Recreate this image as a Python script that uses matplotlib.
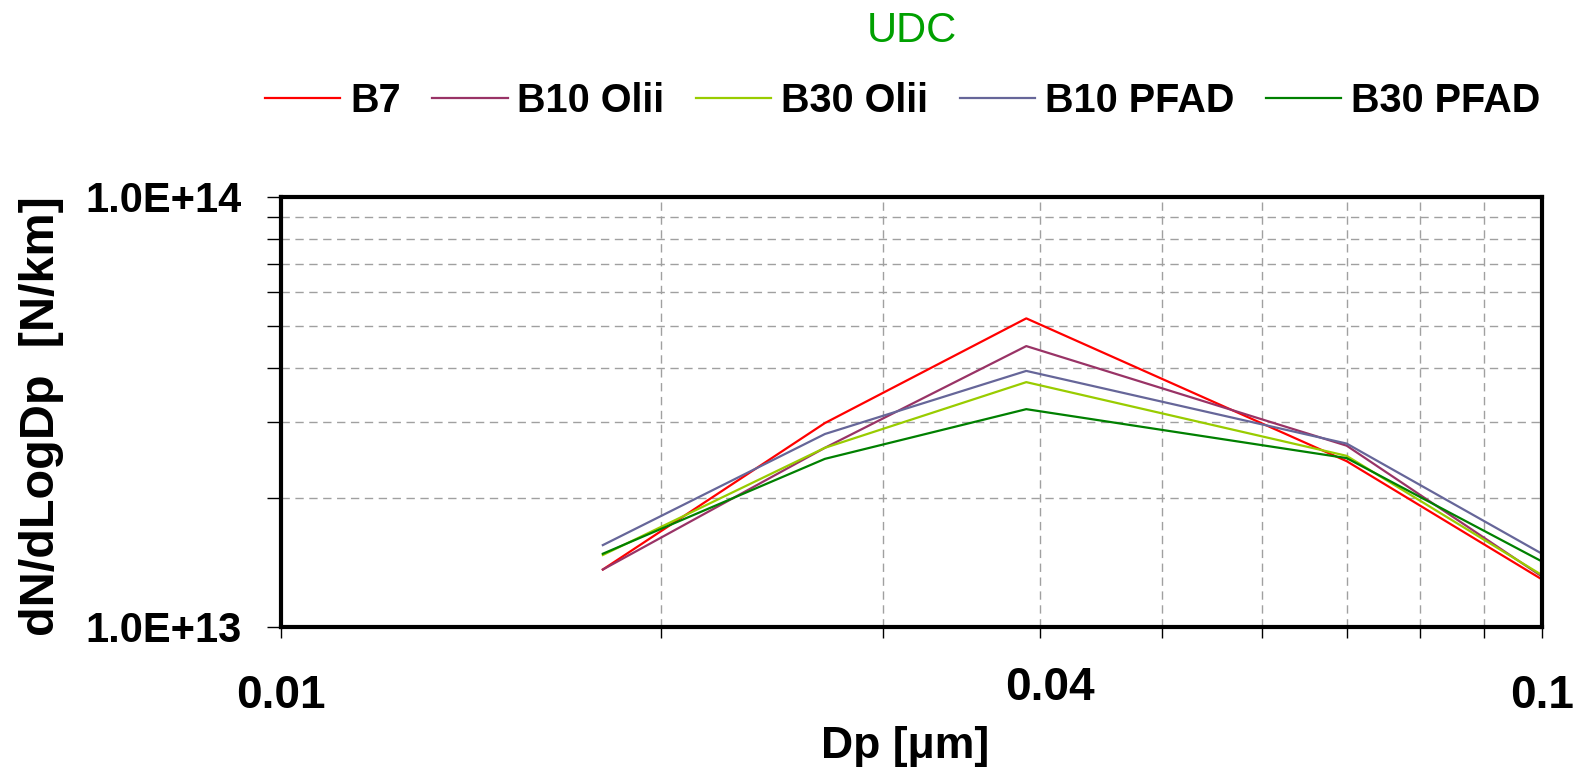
import matplotlib
matplotlib.use("Agg")
import matplotlib.pyplot as plt
from matplotlib.ticker import LogLocator, FuncFormatter, NullFormatter, FixedLocator
from matplotlib.transforms import ScaledTranslation

plt.rcParams['font.family'] = ['Liberation Sans', 'DejaVu Sans']

# particle diameter [um]
dp = [0.018, 0.027, 0.039, 0.070, 0.1]

# dN/dLogDp [N/km]
b7 = [1.36e13, 2.98e13, 5.22e13, 2.43e13, 1.29e13]
b10_olii = [1.36e13, 2.61e13, 4.50e13, 2.64e13, 1.31e13]
b30_olii = [1.47e13, 2.61e13, 3.71e13, 2.50e13, 1.32e13]
b10_pfad = [1.55e13, 2.81e13, 3.94e13, 2.67e13, 1.48e13]
b30_pfad = [1.48e13, 2.46e13, 3.21e13, 2.47e13, 1.42e13]

series = [
    ('B7', b7, '#FF0000'),
    ('B10 Olii', b10_olii, '#993366'),
    ('B30 Olii', b30_olii, '#99CC00'),
    ('B10 PFAD', b10_pfad, '#666699'),
    ('B30 PFAD', b30_pfad, '#008000'),
]

xticks = [0.01, 0.04, 0.1]
xtick_labels = ['0.01', '0.04', '0.1']

fig = plt.figure(figsize=(15.81, 7.74), dpi=100)
ax = fig.add_axes([0.1777, 0.19, 0.7976, 0.5555])

for name, vals, col in series:
    ax.plot(dp, vals, color=col, lw=1.6, label=name)

ax.set_xscale('log')
ax.set_yscale('log')
ax.set_xlim(0.01, 0.1)
ax.set_ylim(1e13, 1e14)

ax.xaxis.set_major_locator(FixedLocator(xticks))
ax.set_xticklabels(xtick_labels)
ax.xaxis.set_minor_locator(LogLocator(base=10, subs=range(2, 10)))
ax.xaxis.set_minor_formatter(NullFormatter())
ax.yaxis.set_major_locator(FixedLocator([1e13, 1e14]))
ax.yaxis.set_major_formatter(FuncFormatter(lambda v, p: f"{v:.1E}"))
ax.yaxis.set_minor_locator(LogLocator(base=10, subs=range(2, 10)))
ax.yaxis.set_minor_formatter(NullFormatter())

ax.grid(True, which='both', linestyle=(0, (6, 4)), color='#A0A0A0', lw=1)
ax.set_axisbelow(True)

ax.tick_params(axis='x', which='both', direction='out', length=8, width=1,
               pad=26, labelsize=33)
ax.tick_params(axis='y', which='both', direction='out', length=10, width=1,
               pad=18, labelsize=30)
for lab in ax.get_xticklabels() + ax.get_yticklabels():
    lab.set_fontweight('bold')

# the middle label sits a little higher and to the right in the original
mid = ax.get_xticklabels()[1]
mid.set_transform(mid.get_transform() + ScaledTranslation(0.1, 0.08, fig.dpi_scale_trans))

for sp in ax.spines.values():
    sp.set_linewidth(3)
    sp.set_color('black')

ax.set_xlabel('Dp [μm]', fontsize=32, fontweight='bold')
ax.set_ylabel('dN/dLogDp  [N/km]', fontsize=35, fontweight='bold')
ax.xaxis.set_label_coords(0.495, -0.277)
ax.xaxis.label.set_va('center')
ax.yaxis.set_label_coords(-0.19, 0.49)
ax.yaxis.label.set_va('center')

fig.text(0.577, 0.96, 'UDC', color='#00A000', fontsize=30, ha='center', va='center')

fig.legend(loc='center', bbox_to_anchor=(0.571, 0.87), ncol=5, frameon=False,
           prop={'size': 28.5, 'weight': 'bold'}, handlelength=1.9,
           handletextpad=0.25, columnspacing=0.8)

fig.savefig('out.png', dpi=100)
